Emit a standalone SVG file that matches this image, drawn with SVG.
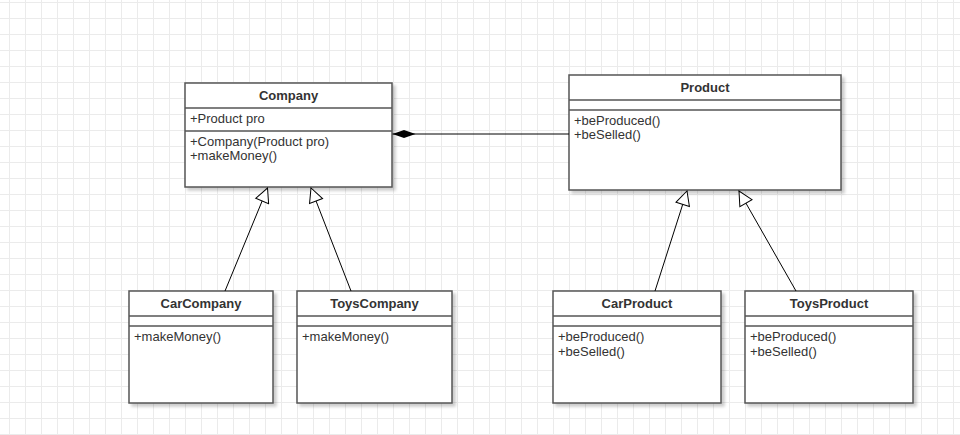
<svg xmlns="http://www.w3.org/2000/svg" width="960" height="435" viewBox="0 0 960 435">
<defs>
<pattern id="grid" x="9" y="2" width="16" height="16" patternUnits="userSpaceOnUse">
<path d="M0.5 0V16M0 0.5H16" stroke="#ebebeb" stroke-width="1" fill="none"/>
</pattern>
<marker id="inh" markerWidth="16" markerHeight="16" refX="15" refY="8" orient="auto" markerUnits="userSpaceOnUse">
<path d="M1 1L15 8L1 15Z" fill="#fff" stroke="#000" stroke-width="1"/>
</marker>
<marker id="comp" markerWidth="26" markerHeight="10" refX="1" refY="5" orient="auto" markerUnits="userSpaceOnUse">
<path d="M1 5L12.5 1L24 5L12.5 9Z" fill="#000"/>
</marker>
<filter id="sh" x="-10%" y="-10%" width="130%" height="130%">
<feDropShadow dx="3" dy="3" stdDeviation="1.5" flood-color="#000" flood-opacity="0.2"/>
</filter>
</defs>
<style>
.box{fill:#fff;stroke:#555;stroke-width:1.5}
.sep{stroke:#555;stroke-width:1.5}
.t{font-family:"Liberation Sans",Arial,sans-serif;font-size:13px;fill:#333}
.b{font-weight:bold;text-anchor:middle}
.c{stroke:#000;stroke-width:1;fill:none}
</style>
<rect width="960" height="435" fill="#fff"/>
<rect width="960" height="435" fill="url(#grid)"/>

<g id="Company">
<rect class="box" x="185" y="83" width="207" height="104" filter="url(#sh)"/>
<line class="sep" x1="185" y1="108" x2="392" y2="108"/>
<line class="sep" x1="185" y1="131" x2="392" y2="131"/>
<text class="t b" x="288.5" y="100">Company</text>
<text class="t" x="190" y="123">+Product pro</text>
<text class="t" x="190" y="146">+Company(Product pro)</text>
<text class="t" x="190" y="160">+makeMoney()</text>
</g>

<g id="Product">
<rect class="box" x="569" y="75" width="272" height="115" filter="url(#sh)"/>
<line class="sep" x1="569" y1="100" x2="841" y2="100"/>
<line class="sep" x1="569" y1="110" x2="841" y2="110"/>
<text class="t b" x="705" y="92">Product</text>
<text class="t" x="574" y="125">+beProduced()</text>
<text class="t" x="574" y="139">+beSelled()</text>
</g>

<g id="CarCompany">
<rect class="box" x="129" y="291" width="144" height="112" filter="url(#sh)"/>
<line class="sep" x1="129" y1="316" x2="273" y2="316"/>
<line class="sep" x1="129" y1="326" x2="273" y2="326"/>
<text class="t b" x="201" y="308">CarCompany</text>
<text class="t" x="134" y="341">+makeMoney()</text>
</g>

<g id="ToysCompany">
<rect class="box" x="297" y="291" width="155" height="112" filter="url(#sh)"/>
<line class="sep" x1="297" y1="316" x2="452" y2="316"/>
<line class="sep" x1="297" y1="326" x2="452" y2="326"/>
<text class="t b" x="374.5" y="308">ToysCompany</text>
<text class="t" x="302" y="341">+makeMoney()</text>
</g>

<g id="CarProduct">
<rect class="box" x="553" y="291" width="168" height="112" filter="url(#sh)"/>
<line class="sep" x1="553" y1="316" x2="721" y2="316"/>
<line class="sep" x1="553" y1="326" x2="721" y2="326"/>
<text class="t b" x="637" y="308">CarProduct</text>
<text class="t" x="558" y="341">+beProduced()</text>
<text class="t" x="558" y="356">+beSelled()</text>
</g>

<g id="ToysProduct">
<rect class="box" x="745" y="291" width="168" height="112" filter="url(#sh)"/>
<line class="sep" x1="745" y1="316" x2="913" y2="316"/>
<line class="sep" x1="745" y1="326" x2="913" y2="326"/>
<text class="t b" x="829" y="308">ToysProduct</text>
<text class="t" x="750" y="341">+beProduced()</text>
<text class="t" x="750" y="356">+beSelled()</text>
</g>

<g id="connectors">
<line class="c" x1="225" y1="291" x2="267.5" y2="188" marker-end="url(#inh)"/>
<line class="c" x1="351" y1="291" x2="311" y2="188" marker-end="url(#inh)"/>
<line class="c" x1="655" y1="291" x2="687" y2="191" marker-end="url(#inh)"/>
<line class="c" x1="796" y1="291" x2="739" y2="191" marker-end="url(#inh)"/>
<line class="c" x1="392.5" y1="134" x2="569" y2="134" marker-start="url(#comp)"/>
</g>
</svg>
